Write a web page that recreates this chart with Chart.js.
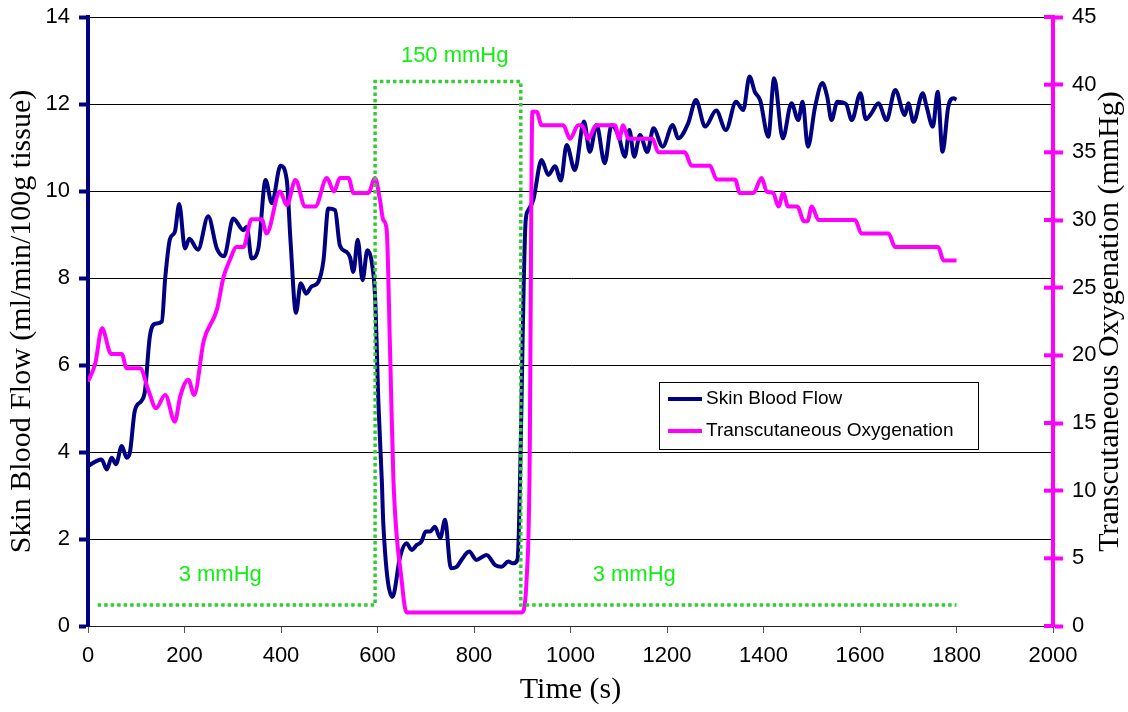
<!DOCTYPE html>
<html>
<head>
<meta charset="utf-8">
<title>Skin blood flow and TcPO2</title>
<script src="https://cdn.jsdelivr.net/npm/chart.js@4.4.1/dist/chart.umd.min.js"></script>
<style>
  html, body { margin: 0; padding: 0; background: #fff; }
  #wrap { width: 1128px; height: 712px; }
</style>
</head>
<body>
<div id="wrap"><canvas id="chart" width="1128" height="712"></canvas></div>
<script>
// skin blood flow, ml/min/100g tissue (left axis)
const flowTime = [0, 28, 39, 49, 58, 70, 80, 87, 97, 111, 118, 128, 139, 153, 160, 170, 180, 189, 201, 210,
  228, 249, 267, 282, 301, 322, 329, 339, 353, 368, 381, 399, 412, 420, 431, 441, 452, 463, 477, 488,
  498, 512, 522, 536, 543, 550, 559, 569, 579, 588, 595, 602, 609, 612, 631, 647, 660, 671, 681, 691,
  700, 709, 719, 730, 740, 752, 764, 774, 790, 805, 826, 844, 857, 871, 881, 890, 907, 912, 923, 940,
  954, 968, 980, 992, 1009, 1028, 1040, 1054, 1071, 1085, 1099, 1113, 1122, 1132, 1144, 1159, 1172, 1191, 1212, 1223,
  1244, 1260, 1279, 1302, 1322, 1343, 1358, 1371, 1382, 1393, 1410, 1422, 1440, 1458, 1472, 1481, 1492, 1507, 1522, 1532,
  1541, 1553, 1571, 1583, 1601, 1612, 1624, 1638, 1655, 1673, 1693, 1700, 1711, 1730, 1738, 1751, 1761, 1771, 1783, 1794,
  1800];
const flowValue = [3.68, 3.83, 3.6, 3.87, 3.72, 4.14, 3.87, 4.0, 4.95, 5.18, 5.4, 6.64, 6.95, 7.0, 8.0, 8.9, 9.06, 9.7, 8.68, 8.9,
  8.65, 9.42, 8.68, 8.5, 9.37, 9.1, 9.18, 8.45, 8.68, 10.25, 9.72, 10.58, 10.25, 8.8, 7.2, 7.88, 7.64, 7.8, 7.9, 8.4,
  9.6, 9.56, 8.75, 8.6, 8.48, 8.14, 8.88, 7.95, 8.64, 8.37, 7.56, 5.1, 3.33, 2.36, 0.67, 1.6, 1.9, 1.75, 1.86, 1.94,
  2.17, 2.17, 2.28, 2.02, 2.44, 1.33, 1.36, 1.52, 1.71, 1.52, 1.63, 1.4, 1.36, 1.48, 1.44, 1.52, 9.3, 9.55, 9.8, 10.71,
  10.37, 10.57, 10.24, 11.06, 10.48, 11.6, 10.9, 11.52, 10.64, 11.52, 11.29, 10.79, 11.4, 10.79, 11.29, 10.9, 11.44, 11.02, 11.52, 11.21,
  11.56, 12.09, 11.48, 11.85, 11.4, 12.05, 11.86, 12.63, 12.28, 12.09, 11.25, 12.59, 11.21, 12.02, 11.63, 12.05, 11.02, 11.94, 12.48, 12.17,
  11.63, 12.05, 12.0, 11.63, 12.25, 11.65, 11.79, 12.02, 11.63, 12.32, 11.75, 12.02, 11.59, 12.25, 11.94, 11.48, 12.28, 10.9, 11.94, 12.13,
  12.1];

// transcutaneous oxygenation, mmHg (right axis)
const oxyTime = [0, 15, 29, 48, 70, 80, 108, 125, 141, 160, 180, 191, 208, 220, 240, 267, 281, 294, 308, 322,
  339, 360, 370, 398, 412, 430, 450, 471, 495, 510, 522, 540, 550, 581, 595, 605, 612, 619, 626, 633,
  650, 660, 899, 909, 915, 921, 930, 940, 985, 999, 1016, 1023, 1037, 1053, 1092, 1101, 1109, 1120, 1170, 1182,
  1237, 1251, 1289, 1303, 1341, 1351, 1379, 1396, 1407, 1420, 1431, 1441, 1451, 1470, 1484, 1491, 1500, 1514, 1590, 1603,
  1659, 1673, 1762, 1773, 1800];
const oxyValue = [18.06, 19.4, 22.0, 20.1, 20.1, 19.05, 19.05, 17.44, 16.1, 17.07, 15.1, 16.95, 18.2, 17.07, 21.1, 23.36, 25.8, 27.05, 28.0, 28.0,
  30.06, 30.06, 29.0, 32.1, 31.1, 32.96, 31.0, 31.0, 33.1, 32.1, 33.1, 33.1, 32.0, 32.0, 33.1, 31.5, 30.0, 29.3, 20.4, 10.8,
  3.4, 1.0, 1.0, 3.4, 10.8, 38.0, 38.0, 37.0, 37.0, 36.0, 37.0, 37.0, 36.0, 37.0, 37.0, 36.0, 37.0, 36.0, 36.0, 35.0,
  35.0, 34.0, 34.0, 33.0, 33.0, 32.0, 32.0, 33.1, 32.1, 32.0, 31.0, 32.0, 31.0, 31.0, 29.9, 29.9, 31.0, 30.0, 30.0, 29.0,
  29.0, 28.0, 28.0, 27.0, 27.0];

// cuff pressure trace (dotted, drawn against the left axis)
const cuffTime = [20, 595, 595, 897, 897, 1800];
const cuffValue = [0.48, 0.48, 12.52, 12.52, 0.48, 0.48];
const cuffLabels = ["150 mmHg", "3 mmHg", "3 mmHg"];
const cuffLabelTime = [760, 274, 1132];
const cuffLabelValue = [13.1, 1.17, 1.17];

const NAVY = "#000080";
const MAGENTA = "#ff00ff";
const GREEN = "#33cc33";
const LABEL_GREEN = "#11ee11";
const SANS = "'Liberation Sans', Arial, sans-serif";
const SERIF = "'Liberation Serif', 'Times New Roman', serif";

const pts = (xs, ys) => xs.map((x, i) => ({ x, y: ys[i] }));

const extras = {
  id: "extras",
  afterDatasetsDraw(chart) {
    const { ctx, scales } = chart;
    ctx.save();
    ctx.font = `22px ${SANS}`;
    ctx.fillStyle = LABEL_GREEN;
    ctx.textAlign = "center";
    ctx.textBaseline = "middle";
    cuffLabels.forEach((txt, i) => {
      ctx.fillText(txt, scales.x.getPixelForValue(cuffLabelTime[i]), scales.y.getPixelForValue(cuffLabelValue[i]));
    });
    ctx.restore();
  },
  afterDraw(chart) {
    const { ctx, chartArea, scales } = chart;
    const midY = (chartArea.top + chartArea.bottom) / 2;
    ctx.save();

    // right axis ticks cross the axis line
    ctx.strokeStyle = MAGENTA;
    ctx.lineWidth = 4;
    scales.y2.ticks.forEach((t) => {
      const y = scales.y2.getPixelForValue(t.value);
      ctx.beginPath();
      ctx.moveTo(chartArea.right - 9, y);
      ctx.lineTo(chartArea.right, y);
      ctx.stroke();
    });

    // axis titles
    ctx.fillStyle = "#000";
    ctx.textAlign = "center";
    ctx.textBaseline = "middle";
    ctx.font = `30px ${SERIF}`;
    ctx.fillText("Time (s)", (chartArea.left + chartArea.right) / 2, 690);
    [[22, "Skin Blood Flow (ml/min/100g tissue)"], [1110, "Transcutaneous Oxygenation (mmHg)"]].forEach(([x, txt]) => {
      ctx.save();
      ctx.translate(x, midY);
      ctx.rotate(-Math.PI / 2);
      ctx.fillText(txt, 0, 0);
      ctx.restore();
    });

    // legend box
    const lx = 659, ly = 382, lw = 319, lh = 67;
    ctx.fillStyle = "#fff";
    ctx.fillRect(lx, ly, lw, lh);
    ctx.strokeStyle = "#000";
    ctx.lineWidth = 1;
    ctx.strokeRect(lx + 0.5, ly + 0.5, lw, lh);
    ctx.font = `19px ${SANS}`;
    ctx.textAlign = "left";
    [chart.data.datasets[2], chart.data.datasets[1]].forEach((ds, i) => {
      const y = ly + 17 + i * 32;
      ctx.strokeStyle = ds.borderColor;
      ctx.lineWidth = 4;
      ctx.beginPath();
      ctx.moveTo(lx + 9, y);
      ctx.lineTo(lx + 43, y);
      ctx.stroke();
      ctx.fillStyle = "#000";
      ctx.fillText(ds.label, lx + 47, y);
    });
    ctx.restore();
  },
};

const tickFont = { family: SANS, size: 22 };

new Chart(document.getElementById("chart"), {
  type: "line",
  data: {
    datasets: [
      {
        label: "Cuff Pressure",
        data: pts(cuffTime, cuffValue),
        yAxisID: "y",
        borderColor: GREEN,
        borderWidth: 3.5,
        borderDash: [3.5, 3],
        tension: 0,
        pointRadius: 0,
        order: 0,
      },
      {
        label: "Transcutaneous Oxygenation",
        data: pts(oxyTime, oxyValue),
        yAxisID: "y2",
        borderColor: MAGENTA,
        borderWidth: 4,
        cubicInterpolationMode: "monotone",
        pointRadius: 0,
        order: 1,
      },
      {
        label: "Skin Blood Flow",
        data: pts(flowTime, flowValue),
        yAxisID: "y",
        borderColor: NAVY,
        borderWidth: 4,
        cubicInterpolationMode: "monotone",
        pointRadius: 0,
        order: 2,
      },
    ],
  },
  options: {
    responsive: false,
    animation: false,
    layout: { padding: { top: 17, left: 0, right: 0, bottom: 0 } },
    plugins: { legend: { display: false }, tooltip: { enabled: false } },
    scales: {
      x: {
        type: "linear",
        min: 0,
        max: 2000,
        ticks: { stepSize: 200, color: "#000", font: tickFont, padding: 10, maxRotation: 0, callback: (v) => String(v) },
        grid: { drawOnChartArea: false, color: "#555", tickLength: 7, tickWidth: 1 },
        border: { color: "#222", width: 1 },
        afterFit: (s) => { s.height = 86; },
      },
      y: {
        position: "left",
        min: 0,
        max: 14,
        ticks: { stepSize: 2, color: "#000", font: tickFont, padding: 9 },
        grid: { color: "#000", lineWidth: 1, tickColor: NAVY, tickWidth: 4, tickLength: 9 },
        border: { color: NAVY, width: 4 },
        afterFit: (s) => { s.width = 88; s.paddingTop = 0; s.paddingBottom = 0; },
      },
      y2: {
        position: "right",
        min: 0,
        max: 45,
        ticks: { stepSize: 5, color: "#000", font: tickFont, padding: 9 },
        grid: { drawOnChartArea: false, tickColor: MAGENTA, tickWidth: 4, tickLength: 10 },
        border: { color: MAGENTA, width: 4 },
        afterFit: (s) => { s.width = 75; s.paddingTop = 0; s.paddingBottom = 0; },
      },
    },
  },
  plugins: [extras],
});
</script>
</body>
</html>
